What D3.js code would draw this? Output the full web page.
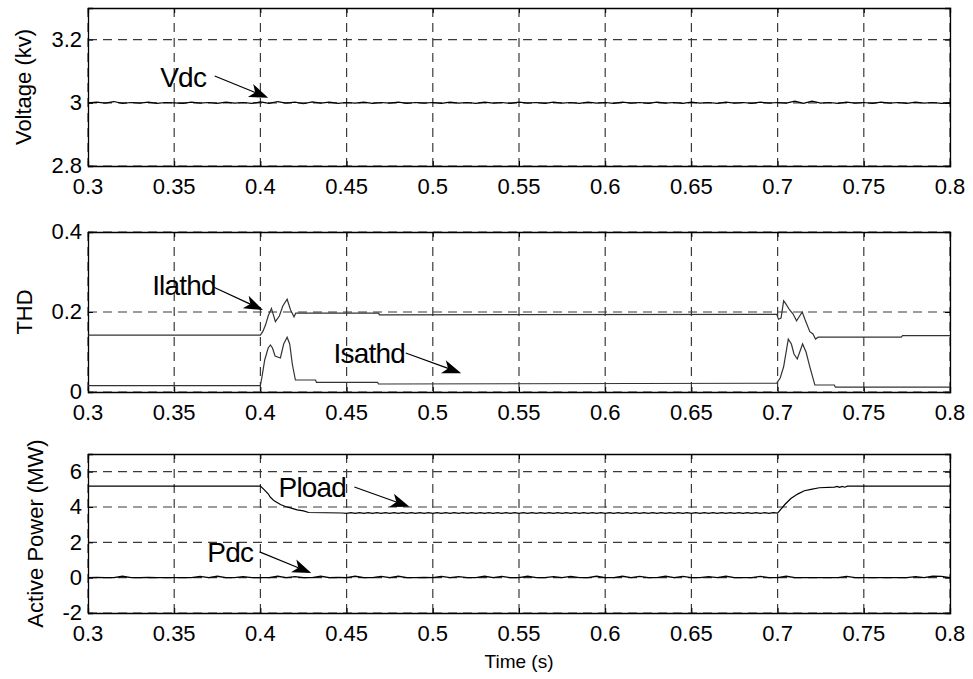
<!DOCTYPE html>
<html>
<head>
<meta charset="utf-8">
<script src="https://cdn.jsdelivr.net/npm/d3@7"></script>
<style>
  html, body { margin: 0; padding: 0; background: #fff; }
  svg { display: block; font-family: "Liberation Sans", Arial, sans-serif; }
</style>
</head>
<body>
<svg id="chart" width="973" height="679"></svg>
<script>
// ---------------- DATA ----------------
const xTicks = [0.3, 0.35, 0.4, 0.45, 0.5, 0.55, 0.6, 0.65, 0.7, 0.75, 0.8];
const xTickLabels = ["0.3", "0.35", "0.4", "0.45", "0.5", "0.55", "0.6", "0.65", "0.7", "0.75", "0.8"];

const vTicks = [2.8, 3.0, 3.2];
const vTickLabels = ["2.8", "3", "3.2"];
const thdTicks = [0, 0.2, 0.4];
const thdTickLabels = ["0", "0.2", "0.4"];
const pTicks = [-2, 0, 2, 4, 6];
const pTickLabels = ["-2", "0", "2", "4", "6"];

// Vdc sampled every 0.005 s from 0.3 to 0.8 (kV)
const vdcValues = [
  3.000, 3.002, 2.999, 3.004, 2.998, 3.001, 2.999, 3.002, 2.998, 3.001,
  3.000, 2.998, 3.002, 2.999, 3.001, 2.998, 3.002, 2.999, 3.001, 2.998,
  3.003, 2.998, 3.004, 2.999, 3.002, 2.997, 3.003, 2.999, 3.002, 2.998,
  3.001, 2.999, 3.002, 2.998, 3.001, 2.999, 3.002, 2.998, 3.001, 2.999,
  3.001, 2.998, 3.002, 2.999, 3.001, 2.998, 3.002, 2.999, 3.001, 2.998,
  3.002, 2.999, 3.001, 2.998, 3.002, 2.999, 3.001, 2.998, 3.002, 2.999,
  3.001, 2.998, 3.002, 2.999, 3.001, 2.998, 3.002, 2.999, 3.001, 2.998,
  3.002, 2.999, 3.001, 2.998, 3.002, 2.999, 3.001, 2.998, 3.002, 2.999,
  3.001, 2.999, 3.005, 2.998, 3.005, 2.999, 3.001, 2.998, 3.002, 2.999,
  3.001, 2.998, 3.002, 2.999, 3.001, 2.998, 3.002, 2.999, 3.001, 2.998,
  3.000
];

// THD curves: [time, value]
const ilathd = [
  [0.3, 0.142], [0.4, 0.142], [0.4015, 0.152], [0.403, 0.168], [0.4045, 0.19],
  [0.4064, 0.209], [0.4087, 0.176], [0.411, 0.19], [0.413, 0.215], [0.4155, 0.232],
  [0.4175, 0.205], [0.4195, 0.188], [0.4205, 0.197], [0.4686, 0.197], [0.469, 0.193],
  [0.6995, 0.194], [0.7005, 0.182], [0.702, 0.185], [0.7035, 0.228], [0.7045, 0.222],
  [0.707, 0.205], [0.709, 0.195], [0.711, 0.178], [0.7143, 0.2], [0.716, 0.18],
  [0.7187, 0.151], [0.7205, 0.145], [0.722, 0.1325], [0.7235, 0.137], [0.7717, 0.137],
  [0.7725, 0.141], [0.8, 0.141]
];
const isathd = [
  [0.3, 0.016], [0.4, 0.016], [0.401, 0.04], [0.4025, 0.08], [0.4045, 0.11],
  [0.4058, 0.1175], [0.407, 0.11], [0.4085, 0.09], [0.4116, 0.085], [0.4135, 0.12],
  [0.4155, 0.137], [0.417, 0.12], [0.4185, 0.07], [0.4203, 0.03], [0.432, 0.03],
  [0.4325, 0.024], [0.468, 0.024], [0.4685, 0.02], [0.6995, 0.022], [0.7015, 0.035],
  [0.7035, 0.063], [0.7062, 0.132], [0.708, 0.12], [0.7095, 0.095], [0.7114, 0.0825],
  [0.7145, 0.12], [0.7165, 0.1], [0.7187, 0.063], [0.7216, 0.0175], [0.7329, 0.0175],
  [0.7335, 0.012], [0.8, 0.012]
];

// Pload (MW): transient before ripple, ripple section, recovery
const ploadDrop = [
  [0.3, 5.18], [0.4, 5.18], [0.402, 5.0], [0.4045, 4.75], [0.4058, 4.55],
  [0.408, 4.35], [0.4116, 4.14], [0.4145, 4.03], [0.4174, 3.95], [0.4213, 3.84],
  [0.425, 3.78], [0.428, 3.69], [0.4475, 3.66]
];
// ripple sampled every 0.0025 s from 0.45 to 0.7
const ploadRipple = [
  3.64, 3.68, 3.64, 3.68, 3.64, 3.68, 3.64, 3.68, 3.64, 3.68,
  3.64, 3.68, 3.64, 3.68, 3.64, 3.68, 3.64, 3.68, 3.64, 3.68,
  3.64, 3.68, 3.64, 3.68, 3.64, 3.68, 3.64, 3.68, 3.64, 3.68,
  3.64, 3.68, 3.64, 3.68, 3.64, 3.68, 3.64, 3.68, 3.64, 3.68,
  3.64, 3.68, 3.64, 3.68, 3.64, 3.68, 3.64, 3.68, 3.64, 3.68,
  3.64, 3.68, 3.64, 3.68, 3.64, 3.68, 3.64, 3.68, 3.64, 3.68,
  3.64, 3.68, 3.64, 3.68, 3.64, 3.68, 3.64, 3.68, 3.64, 3.68,
  3.64, 3.68, 3.64, 3.68, 3.64, 3.68, 3.64, 3.68, 3.64, 3.68,
  3.64, 3.68, 3.64, 3.68, 3.64, 3.68, 3.64, 3.68, 3.64, 3.68,
  3.64, 3.68, 3.64, 3.68, 3.64, 3.68, 3.64, 3.68, 3.64, 3.68,
  3.65
];
const ploadRise = [
  [0.7, 3.65], [0.7042, 4.14], [0.7077, 4.48], [0.7116, 4.73], [0.7155, 4.92],
  [0.7194, 5.0], [0.7242, 5.09], [0.733, 5.13], [0.7345, 5.17], [0.736, 5.11],
  [0.7375, 5.17], [0.739, 5.12], [0.7405, 5.18], [0.8, 5.18]
];

// Pdc sampled every 0.005 s from 0.3 to 0.8 (MW)
const pdcValues = [
  0.00, 0.02, 0.00, 0.00, 0.08, 0.00, 0.00, 0.02, 0.00, 0.00,
  0.00, 0.00, 0.00, 0.07, 0.00, 0.08, 0.00, 0.00, 0.06, 0.00,
  0.00, 0.00, 0.08, 0.00, 0.06, 0.00, 0.00, 0.08, 0.00, 0.02,
  0.00, 0.08, 0.00, 0.00, 0.07, 0.00, 0.08, 0.00, 0.00, 0.02,
  0.00, 0.07, 0.00, 0.06, 0.00, 0.00, 0.08, 0.00, 0.07, 0.00,
  0.00, 0.08, 0.00, 0.00, 0.06, 0.00, 0.07, 0.00, 0.00, 0.08,
  0.00, 0.00, 0.08, 0.00, 0.07, 0.00, 0.00, 0.08, 0.00, 0.07,
  0.00, 0.00, 0.06, 0.00, 0.08, 0.00, 0.00, 0.00, 0.07, 0.00,
  0.00, 0.08, 0.00, 0.00, 0.00, 0.00, 0.00, 0.00, 0.07, 0.00,
  0.00, 0.00, 0.00, 0.00, 0.00, 0.00, 0.06, 0.00, 0.08, 0.07,
  0.00
];

// annotations (data coordinates): label, text anchor, arrow start, arrow tip
const vAnnot = [{ label: "Vdc", text: [0.3419, 3.05], from: [0.3735, 3.085], to: [0.4045, 3.016] }];
const thdAnnot = [
  { label: "Ilathd", text: [0.3372, 0.2425], from: [0.3727, 0.2625], to: [0.4015, 0.205] },
  { label: "Isathd", text: [0.4424, 0.0725], from: [0.4843, 0.0975], to: [0.5165, 0.047] }
];
const pAnnot = [
  { label: "Pload", text: [0.4105, 4.57], from: [0.4545, 5.13], to: [0.4865, 4.02] },
  { label: "Pdc", text: [0.3692, 0.89], from: [0.3995, 1.46], to: [0.4295, 0.26] }
];

// ---------------- DRAW ----------------
const svg = d3.select("#chart");
const left = 88, right = 950;
const x = d3.scaleLinear().domain([0.3, 0.8]).range([left, right]);
const sampleTimes = (n, t0, dt) => d3.range(n).map(i => t0 + i * dt);

const panels = [
  { top: 8, bottom: 166, domain: [2.8, 3.3], ticks: vTicks, labels: vTickLabels, ylabel: "Voltage (kv)", ylabelX: 31, annots: vAnnot },
  { top: 232, bottom: 392, domain: [0, 0.4], ticks: thdTicks, labels: thdTickLabels, ylabel: "THD", ylabelX: 32, annots: thdAnnot },
  { top: 454, bottom: 613, domain: [-2, 7], ticks: pTicks, labels: pTickLabels, ylabel: "Active Power (MW)", ylabelX: 43, annots: pAnnot }
];

const fontTick = 22;
panels.forEach(p => {
  p.y = d3.scaleLinear().domain(p.domain).range([p.bottom, p.top]);
});

function drawPanel(p, idx) {
  const g = svg.append("g");
  const y = p.y;
  // grid
  const grid = g.append("g").attr("stroke", "#3a3a3a").attr("stroke-width", 1.2).attr("stroke-dasharray", "9,6");
  xTicks.forEach(t => {
    grid.append("line").attr("x1", x(t)).attr("x2", x(t)).attr("y1", p.top).attr("y2", p.bottom);
  });
  p.ticks.forEach(v => {
    grid.append("line").attr("x1", left).attr("x2", right).attr("y1", y(v)).attr("y2", y(v));
  });
  // axes with inward ticks
  const axB = d3.axisBottom(x).tickValues(xTicks).tickSize(-5).tickFormat("");
  const axT = d3.axisTop(x).tickValues(xTicks).tickSize(-5).tickFormat("");
  const axL = d3.axisLeft(y).tickValues(p.ticks).tickSize(-5).tickFormat("");
  const axR = d3.axisRight(y).tickValues(p.ticks).tickSize(-5).tickFormat("");
  [[axB, `translate(0,${p.bottom})`], [axT, `translate(0,${p.top})`], [axL, `translate(${left},0)`], [axR, `translate(${right},0)`]].forEach(([ax, tr]) => {
    const a = g.append("g").attr("transform", tr).call(ax);
    a.selectAll("path").attr("stroke", "#000").attr("stroke-width", 1.3);
    a.selectAll("line").attr("stroke", "#000").attr("stroke-width", 1);
  });
  // tick labels
  g.append("g").selectAll("text").data(xTicks).join("text")
    .attr("x", d => x(d)).attr("y", p.bottom + 28)
    .attr("text-anchor", "middle").attr("font-size", fontTick).attr("fill", "#000")
    .text((d, i) => xTickLabels[i]);
  g.append("g").selectAll("text").data(p.ticks).join("text")
    .attr("x", left - 6).attr("y", d => y(d)).attr("dy", "0.34em")
    .attr("text-anchor", "end").attr("font-size", fontTick).attr("fill", "#000")
    .text((d, i) => p.labels[i]);
  // y label
  g.append("text")
    .attr("transform", `translate(${p.ylabelX},${(p.top + p.bottom) / 2}) rotate(-90)`)
    .attr("text-anchor", "middle").attr("font-size", 22).attr("fill", "#000")
    .text(p.ylabel);
  return g;
}

const gs = panels.map(drawPanel);

function lineOf(p) {
  return d3.line().x(d => x(d[0])).y(d => p.y(d[1]));
}

// Vdc
const P0 = panels[0], P1 = panels[1], P2 = panels[2];
const vdcTimes = sampleTimes(vdcValues.length, 0.3, 0.005);
gs[0].append("path").datum(vdcValues.map((v, i) => [vdcTimes[i], v]))
  .attr("d", lineOf(P0)).attr("fill", "none").attr("stroke", "#000").attr("stroke-width", 1.2);

// THD
gs[1].append("path").datum(ilathd).attr("d", lineOf(P1)).attr("fill", "none").attr("stroke", "#333").attr("stroke-width", 1.2);
gs[1].append("path").datum(isathd).attr("d", lineOf(P1)).attr("fill", "none").attr("stroke", "#333").attr("stroke-width", 1.2);

// Pload
const rippleTimes = sampleTimes(ploadRipple.length, 0.45, 0.0025);
const ploadAll = ploadDrop.concat(ploadRipple.map((v, i) => [rippleTimes[i], v]), ploadRise.slice(1));
gs[2].append("path").datum(ploadAll).attr("d", lineOf(P2)).attr("fill", "none").attr("stroke", "#000").attr("stroke-width", 1.2);
// Pdc
const pdcTimes = sampleTimes(pdcValues.length, 0.3, 0.005);
gs[2].append("path").datum(pdcValues.map((v, i) => [pdcTimes[i], v]))
  .attr("d", lineOf(P2)).attr("fill", "none").attr("stroke", "#000").attr("stroke-width", 1.3);

// annotations
function drawAnnots(g, p) {
  p.annots.forEach(a => {
    g.append("text").attr("x", x(a.text[0])).attr("y", p.y(a.text[1]))
      .attr("font-size", 28).attr("letter-spacing", "-0.8px").attr("fill", "#000").text(a.label);
    const x1 = x(a.from[0]), y1 = p.y(a.from[1]), x2 = x(a.to[0]), y2 = p.y(a.to[1]);
    const ang = Math.atan2(y2 - y1, x2 - x1);
    const L = 19, W = 7, back = 5;
    const bx = x2 - L * Math.cos(ang), by = y2 - L * Math.sin(ang);
    g.append("line").attr("x1", x1).attr("y1", y1).attr("x2", bx + back * Math.cos(ang)).attr("y2", by + back * Math.sin(ang))
      .attr("stroke", "#000").attr("stroke-width", 1.2);
    const px = -Math.sin(ang), py = Math.cos(ang);
    const pts = [
      [x2, y2],
      [bx + W * px, by + W * py],
      [bx + back * Math.cos(ang), by + back * Math.sin(ang)],
      [bx - W * px, by - W * py]
    ];
    g.append("path").attr("d", "M" + pts.map(q => q.join(",")).join("L") + "Z").attr("fill", "#000");
  });
}
drawAnnots(gs[0], P0);
drawAnnots(gs[1], P1);
drawAnnots(gs[2], P2);

// x label
svg.append("text").attr("x", (left + right) / 2).attr("y", 668)
  .attr("text-anchor", "middle").attr("font-size", 19).attr("fill", "#000").text("Time (s)");
</script>
</body>
</html>
